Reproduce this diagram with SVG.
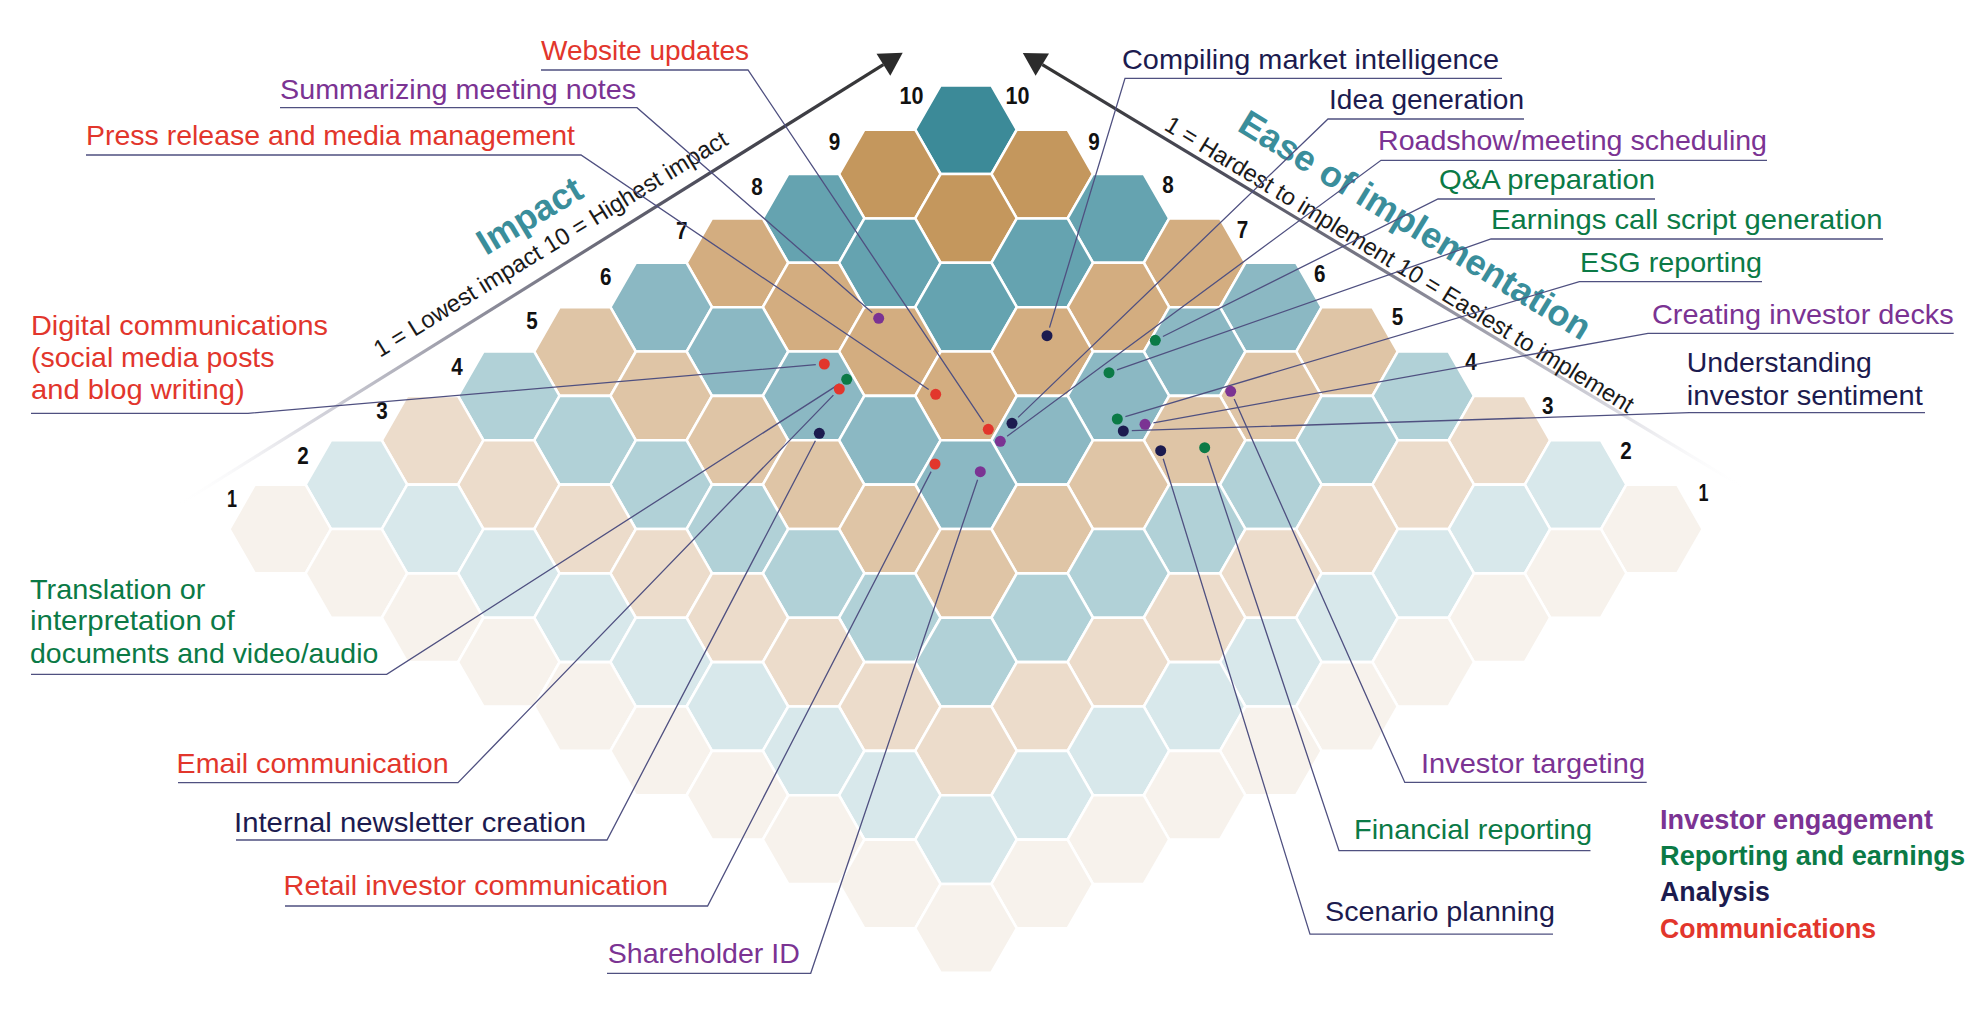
<svg xmlns="http://www.w3.org/2000/svg" width="1972" height="1015" viewBox="0 0 1972 1015">
<style>
text{font-family:"Liberation Sans",Arial,sans-serif}
.lbl{font-size:28px}
.leg{font-size:27px;font-weight:bold}
.num{font-size:24.5px;font-weight:bold;fill:#111;text-anchor:middle}
.ttl{font-size:36px;font-weight:bold;fill:#3a8e9b}
.sub{font-size:24px;fill:#1a1a1a}
.red{fill:#e2362c}.pur{fill:#7b3393}.grn{fill:#0b7a46}.nav{fill:#1c1b4f}
.c0{fill:#3c8a98}.c1{fill:#c4975d}.c2{fill:#65a3b0}.c3{fill:#d3ad80}.c4{fill:#8bb8c3}
.c5{fill:#dfc5a6}.c6{fill:#b1d1d7}.c7{fill:#ecdccb}.c8{fill:#d8e8eb}.c9{fill:#f7f2ec}
.ld{fill:none;stroke:#4f5080;stroke-width:1.3}
</style>
<defs>
<polygon id="hx" points="-50.8,0 -25.4,-44.37 25.4,-44.37 50.8,0 25.4,44.37 -25.4,44.37" stroke="#ffffff" stroke-width="2.6" stroke-linejoin="miter"/>
<linearGradient id="gl" gradientUnits="userSpaceOnUse" x1="175" y1="507" x2="883.4" y2="64.7">
<stop offset="0" stop-color="#ffffff" stop-opacity="0"/>
<stop offset="0.2" stop-color="#d4d4dc"/>
<stop offset="0.45" stop-color="#8a8a98"/>
<stop offset="0.75" stop-color="#4c4c5a"/>
<stop offset="1" stop-color="#333333"/>
</linearGradient>
<linearGradient id="gr" gradientUnits="userSpaceOnUse" x1="1745" y1="488.4" x2="1042.3" y2="64.7">
<stop offset="0" stop-color="#ffffff" stop-opacity="0"/>
<stop offset="0.2" stop-color="#d4d4dc"/>
<stop offset="0.45" stop-color="#8a8a98"/>
<stop offset="0.75" stop-color="#4c4c5a"/>
<stop offset="1" stop-color="#333333"/>
</linearGradient>
</defs>
<rect width="1972" height="1015" fill="#ffffff"/>

<g id="hexgrid" transform="translate(966 129.7)">
<g transform="translate(0 0)">
<use href="#hx" x="0" y="0" class="c0"/><use href="#hx" x="76.2" y="44.37" class="c1"/><use href="#hx" x="152.4" y="88.74" class="c2"/><use href="#hx" x="228.6" y="133.11" class="c3"/><use href="#hx" x="304.8" y="177.48" class="c4"/><use href="#hx" x="381" y="221.85" class="c5"/><use href="#hx" x="457.2" y="266.22" class="c6"/><use href="#hx" x="533.4" y="310.59" class="c7"/><use href="#hx" x="609.6" y="354.96" class="c8"/><use href="#hx" x="685.8" y="399.33" class="c9"/>
</g>
<g transform="translate(-76.2 44.37)">
<use href="#hx" x="0" y="0" class="c1"/><use href="#hx" x="76.2" y="44.37" class="c1"/><use href="#hx" x="152.4" y="88.74" class="c2"/><use href="#hx" x="228.6" y="133.11" class="c3"/><use href="#hx" x="304.8" y="177.48" class="c4"/><use href="#hx" x="381" y="221.85" class="c5"/><use href="#hx" x="457.2" y="266.22" class="c6"/><use href="#hx" x="533.4" y="310.59" class="c7"/><use href="#hx" x="609.6" y="354.96" class="c8"/><use href="#hx" x="685.8" y="399.33" class="c9"/>
</g>
<g transform="translate(-152.4 88.74)">
<use href="#hx" x="0" y="0" class="c2"/><use href="#hx" x="76.2" y="44.37" class="c2"/><use href="#hx" x="152.4" y="88.74" class="c2"/><use href="#hx" x="228.6" y="133.11" class="c3"/><use href="#hx" x="304.8" y="177.48" class="c4"/><use href="#hx" x="381" y="221.85" class="c5"/><use href="#hx" x="457.2" y="266.22" class="c6"/><use href="#hx" x="533.4" y="310.59" class="c7"/><use href="#hx" x="609.6" y="354.96" class="c8"/><use href="#hx" x="685.8" y="399.33" class="c9"/>
</g>
<g transform="translate(-228.6 133.11)">
<use href="#hx" x="0" y="0" class="c3"/><use href="#hx" x="76.2" y="44.37" class="c3"/><use href="#hx" x="152.4" y="88.74" class="c3"/><use href="#hx" x="228.6" y="133.11" class="c3"/><use href="#hx" x="304.8" y="177.48" class="c4"/><use href="#hx" x="381" y="221.85" class="c5"/><use href="#hx" x="457.2" y="266.22" class="c6"/><use href="#hx" x="533.4" y="310.59" class="c7"/><use href="#hx" x="609.6" y="354.96" class="c8"/><use href="#hx" x="685.8" y="399.33" class="c9"/>
</g>
<g transform="translate(-304.8 177.48)">
<use href="#hx" x="0" y="0" class="c4"/><use href="#hx" x="76.2" y="44.37" class="c4"/><use href="#hx" x="152.4" y="88.74" class="c4"/><use href="#hx" x="228.6" y="133.11" class="c4"/><use href="#hx" x="304.8" y="177.48" class="c4"/><use href="#hx" x="381" y="221.85" class="c5"/><use href="#hx" x="457.2" y="266.22" class="c6"/><use href="#hx" x="533.4" y="310.59" class="c7"/><use href="#hx" x="609.6" y="354.96" class="c8"/><use href="#hx" x="685.8" y="399.33" class="c9"/>
</g>
<g transform="translate(-381 221.85)">
<use href="#hx" x="0" y="0" class="c5"/><use href="#hx" x="76.2" y="44.37" class="c5"/><use href="#hx" x="152.4" y="88.74" class="c5"/><use href="#hx" x="228.6" y="133.11" class="c5"/><use href="#hx" x="304.8" y="177.48" class="c5"/><use href="#hx" x="381" y="221.85" class="c5"/><use href="#hx" x="457.2" y="266.22" class="c6"/><use href="#hx" x="533.4" y="310.59" class="c7"/><use href="#hx" x="609.6" y="354.96" class="c8"/><use href="#hx" x="685.8" y="399.33" class="c9"/>
</g>
<g transform="translate(-457.2 266.22)">
<use href="#hx" x="0" y="0" class="c6"/><use href="#hx" x="76.2" y="44.37" class="c6"/><use href="#hx" x="152.4" y="88.74" class="c6"/><use href="#hx" x="228.6" y="133.11" class="c6"/><use href="#hx" x="304.8" y="177.48" class="c6"/><use href="#hx" x="381" y="221.85" class="c6"/><use href="#hx" x="457.2" y="266.22" class="c6"/><use href="#hx" x="533.4" y="310.59" class="c7"/><use href="#hx" x="609.6" y="354.96" class="c8"/><use href="#hx" x="685.8" y="399.33" class="c9"/>
</g>
<g transform="translate(-533.4 310.59)">
<use href="#hx" x="0" y="0" class="c7"/><use href="#hx" x="76.2" y="44.37" class="c7"/><use href="#hx" x="152.4" y="88.74" class="c7"/><use href="#hx" x="228.6" y="133.11" class="c7"/><use href="#hx" x="304.8" y="177.48" class="c7"/><use href="#hx" x="381" y="221.85" class="c7"/><use href="#hx" x="457.2" y="266.22" class="c7"/><use href="#hx" x="533.4" y="310.59" class="c7"/><use href="#hx" x="609.6" y="354.96" class="c8"/><use href="#hx" x="685.8" y="399.33" class="c9"/>
</g>
<g transform="translate(-609.6 354.96)">
<use href="#hx" x="0" y="0" class="c8"/><use href="#hx" x="76.2" y="44.37" class="c8"/><use href="#hx" x="152.4" y="88.74" class="c8"/><use href="#hx" x="228.6" y="133.11" class="c8"/><use href="#hx" x="304.8" y="177.48" class="c8"/><use href="#hx" x="381" y="221.85" class="c8"/><use href="#hx" x="457.2" y="266.22" class="c8"/><use href="#hx" x="533.4" y="310.59" class="c8"/><use href="#hx" x="609.6" y="354.96" class="c8"/><use href="#hx" x="685.8" y="399.33" class="c9"/>
</g>
<g transform="translate(-685.8 399.33)">
<use href="#hx" x="0" y="0" class="c9"/><use href="#hx" x="76.2" y="44.37" class="c9"/><use href="#hx" x="152.4" y="88.74" class="c9"/><use href="#hx" x="228.6" y="133.11" class="c9"/><use href="#hx" x="304.8" y="177.48" class="c9"/><use href="#hx" x="381" y="221.85" class="c9"/><use href="#hx" x="457.2" y="266.22" class="c9"/><use href="#hx" x="533.4" y="310.59" class="c9"/><use href="#hx" x="609.6" y="354.96" class="c9"/><use href="#hx" x="685.8" y="399.33" class="c9"/>
</g>
</g>

<g id="axes">
<line x1="175" y1="507" x2="883.4" y2="64.7" stroke="url(#gl)" stroke-width="3.2"/>
<polygon points="902.7,52.7 876.5,53.7 890.3,75.7" fill="#2b2b2b"/>
<line x1="1745" y1="488.4" x2="1042.3" y2="64.7" stroke="url(#gr)" stroke-width="3.2"/>
<polygon points="1022.8,53 1049,53.6 1035.6,75.8" fill="#2b2b2b"/>
<text class="ttl" transform="translate(486 256) rotate(-31)" textLength="116" lengthAdjust="spacingAndGlyphs">Impact</text>
<text class="sub" transform="translate(380 358) rotate(-31.5)" textLength="410" lengthAdjust="spacingAndGlyphs">1 = Lowest impact 10 = Highest impact</text>
<text class="ttl" transform="translate(1236 130) rotate(31.4)" textLength="405" lengthAdjust="spacingAndGlyphs">Ease of implementation</text>
<text class="sub" transform="translate(1163 129) rotate(31.5)" textLength="545" lengthAdjust="spacingAndGlyphs">1 = Hardest to implement 10 = Easiest to implement</text>
<g id="impact-scale">
<text class="num" x="911.6" y="104" textLength="24" lengthAdjust="spacingAndGlyphs">10</text>
<text class="num" x="834.5" y="149.5" textLength="11.5" lengthAdjust="spacingAndGlyphs">9</text>
<text class="num" x="757" y="194.5" textLength="11.5" lengthAdjust="spacingAndGlyphs">8</text>
<text class="num" x="681.7" y="239" textLength="11.5" lengthAdjust="spacingAndGlyphs">7</text>
<text class="num" x="605.7" y="284.5" textLength="11.5" lengthAdjust="spacingAndGlyphs">6</text>
<text class="num" x="532" y="329" textLength="11.5" lengthAdjust="spacingAndGlyphs">5</text>
<text class="num" x="457" y="374.5" textLength="11.5" lengthAdjust="spacingAndGlyphs">4</text>
<text class="num" x="382" y="418.5" textLength="11.5" lengthAdjust="spacingAndGlyphs">3</text>
<text class="num" x="303" y="463.5" textLength="11.5" lengthAdjust="spacingAndGlyphs">2</text>
<text class="num" x="232" y="506.5" textLength="10" lengthAdjust="spacingAndGlyphs">1</text>
</g>
<g id="ease-scale">
<text class="num" x="1017.6" y="104" textLength="24" lengthAdjust="spacingAndGlyphs">10</text>
<text class="num" x="1094" y="149.5" textLength="11.5" lengthAdjust="spacingAndGlyphs">9</text>
<text class="num" x="1168" y="192.5" textLength="11.5" lengthAdjust="spacingAndGlyphs">8</text>
<text class="num" x="1242.4" y="237.5" textLength="11.5" lengthAdjust="spacingAndGlyphs">7</text>
<text class="num" x="1319.7" y="282" textLength="11.5" lengthAdjust="spacingAndGlyphs">6</text>
<text class="num" x="1397.5" y="324.5" textLength="11.5" lengthAdjust="spacingAndGlyphs">5</text>
<text class="num" x="1471" y="370" textLength="11.5" lengthAdjust="spacingAndGlyphs">4</text>
<text class="num" x="1547.7" y="413.5" textLength="11.5" lengthAdjust="spacingAndGlyphs">3</text>
<text class="num" x="1626" y="458.5" textLength="11.5" lengthAdjust="spacingAndGlyphs">2</text>
<text class="num" x="1703.4" y="500.5" textLength="10" lengthAdjust="spacingAndGlyphs">1</text>
</g>
</g>

<g id="connectors">
<path class="ld" d="M541 70 H748 L983.6 422.2"/>
<path class="ld" d="M280 107.7 H637 L872.3 312.7"/>
<path class="ld" d="M86 155 H581 L928.7 389.5"/>
<path class="ld" d="M31 413.3 H248 L815.8 364.7"/>
<path class="ld" d="M31 674.3 H386.7 L839.5 383.9"/>
<path class="ld" d="M178 782.7 H458 L833.4 395.1"/>
<path class="ld" d="M236 840 H607 L815.4 440.8"/>
<path class="ld" d="M285 906 H707.6 L931.1 471.6"/>
<path class="ld" d="M607 973.3 H810.7 L977.6 479.8"/>
<path class="ld" d="M1502 78.3 H1125 L1049.5 327.6"/>
<path class="ld" d="M1524 119 H1328 L1018.1 417.4"/>
<path class="ld" d="M1767 160.3 H1381 L1007.1 436.3"/>
<path class="ld" d="M1655 199 H1438 L1162.9 336.5"/>
<path class="ld" d="M1883 239 H1491 L1117 369.9"/>
<path class="ld" d="M1762 281.7 H1579.4 L1125.4 416.6"/>
<path class="ld" d="M1953.7 333.3 H1648 L1153.4 422.8"/>
<path class="ld" d="M1925 412.7 H1689.5 L1131.8 430.7"/>
<path class="ld" d="M1646.7 782.4 H1404.8 L1234.2 399.1"/>
<path class="ld" d="M1590.5 850.7 H1339 L1207.4 455.8"/>
<path class="ld" d="M1553 934.2 H1310 L1163.2 458.8"/>
</g>

<g id="website-updates"><text class="lbl red" x="541" y="60" textLength="208" lengthAdjust="spacingAndGlyphs">Website updates</text><circle class="red" cx="988.3" cy="429.3" r="5.5"/></g>
<g id="summarizing-meeting-notes"><text class="lbl pur" x="280" y="99.3" textLength="356" lengthAdjust="spacingAndGlyphs">Summarizing meeting notes</text><circle class="pur" cx="878.7" cy="318.3" r="5.5"/></g>
<g id="press-release"><text class="lbl red" x="86" y="145" textLength="489" lengthAdjust="spacingAndGlyphs">Press release and media management</text><circle class="red" cx="935.7" cy="394.3" r="5.5"/></g>
<g id="digital-communications">
<text class="lbl red" x="31" y="335" textLength="297" lengthAdjust="spacingAndGlyphs">Digital communications</text>
<text class="lbl red" x="31" y="366.7" textLength="243.5" lengthAdjust="spacingAndGlyphs">(social media posts</text>
<text class="lbl red" x="31" y="399.3" textLength="213.6" lengthAdjust="spacingAndGlyphs">and blog writing)</text>
<circle class="red" cx="824.3" cy="364" r="5.5"/></g>
<g id="translation">
<text class="lbl grn" x="30" y="599" textLength="175.5" lengthAdjust="spacingAndGlyphs">Translation or</text>
<text class="lbl grn" x="30" y="630" textLength="204.6" lengthAdjust="spacingAndGlyphs">interpretation of</text>
<text class="lbl grn" x="30" y="662.7" textLength="348.3" lengthAdjust="spacingAndGlyphs">documents and video/audio</text>
<circle class="grn" cx="846.7" cy="379.3" r="5.5"/></g>
<g id="email-communication"><text class="lbl red" x="176.6" y="773.3" textLength="272" lengthAdjust="spacingAndGlyphs">Email communication</text><circle class="red" cx="839.3" cy="389" r="5.5"/></g>
<g id="internal-newsletter"><text class="lbl nav" x="234" y="832.3" textLength="352" lengthAdjust="spacingAndGlyphs">Internal newsletter creation</text><circle class="nav" cx="819.3" cy="433.3" r="5.5"/></g>
<g id="retail-investor-communication"><text class="lbl red" x="283.6" y="895" textLength="384.4" lengthAdjust="spacingAndGlyphs">Retail investor communication</text><circle class="red" cx="935" cy="464" r="5.5"/></g>
<g id="shareholder-id"><text class="lbl pur" x="607.8" y="963.3" textLength="192" lengthAdjust="spacingAndGlyphs">Shareholder ID</text><circle class="pur" cx="980.3" cy="471.7" r="5.5"/></g>
<g id="compiling-market-intelligence"><text class="lbl nav" x="1122" y="69.3" textLength="377" lengthAdjust="spacingAndGlyphs">Compiling market intelligence</text><circle class="nav" cx="1047" cy="335.7" r="5.5"/></g>
<g id="idea-generation"><text class="lbl nav" x="1329" y="109.3" textLength="195" lengthAdjust="spacingAndGlyphs">Idea generation</text><circle class="nav" cx="1012" cy="423.3" r="5.5"/></g>
<g id="roadshow-scheduling"><text class="lbl pur" x="1378" y="150" textLength="389" lengthAdjust="spacingAndGlyphs">Roadshow/meeting scheduling</text><circle class="pur" cx="1000.3" cy="441.3" r="5.5"/></g>
<g id="qa-preparation"><text class="lbl grn" x="1439" y="189" textLength="216" lengthAdjust="spacingAndGlyphs">Q&amp;A preparation</text><circle class="grn" cx="1155.3" cy="340.3" r="5.5"/></g>
<g id="earnings-call-script"><text class="lbl grn" x="1491" y="229" textLength="391.5" lengthAdjust="spacingAndGlyphs">Earnings call script generation</text><circle class="grn" cx="1109" cy="372.7" r="5.5"/></g>
<g id="esg-reporting"><text class="lbl grn" x="1580" y="271.7" textLength="182" lengthAdjust="spacingAndGlyphs">ESG reporting</text><circle class="grn" cx="1117.3" cy="419" r="5.5"/></g>
<g id="creating-investor-decks"><text class="lbl pur" x="1652" y="324" textLength="301.7" lengthAdjust="spacingAndGlyphs">Creating investor decks</text><circle class="pur" cx="1145" cy="424.3" r="5.5"/></g>
<g id="understanding-investor-sentiment">
<text class="lbl nav" x="1686.8" y="371.7" textLength="185" lengthAdjust="spacingAndGlyphs">Understanding</text>
<text class="lbl nav" x="1686.8" y="405" textLength="236" lengthAdjust="spacingAndGlyphs">investor sentiment</text>
<circle class="nav" cx="1123.3" cy="431" r="5.5"/></g>
<g id="investor-targeting"><text class="lbl pur" x="1421" y="773" textLength="224" lengthAdjust="spacingAndGlyphs">Investor targeting</text><circle class="pur" cx="1230.7" cy="391.3" r="5.5"/></g>
<g id="financial-reporting"><text class="lbl grn" x="1354" y="839.4" textLength="238" lengthAdjust="spacingAndGlyphs">Financial reporting</text><circle class="grn" cx="1204.7" cy="447.7" r="5.5"/></g>
<g id="scenario-planning"><text class="lbl nav" x="1325" y="921" textLength="230" lengthAdjust="spacingAndGlyphs">Scenario planning</text><circle class="nav" cx="1160.7" cy="450.7" r="5.5"/></g>

<g id="legend">
<text class="leg pur" x="1660" y="829" textLength="273" lengthAdjust="spacingAndGlyphs">Investor engagement</text>
<text class="leg grn" x="1660" y="864.8" textLength="305" lengthAdjust="spacingAndGlyphs">Reporting and earnings</text>
<text class="leg nav" x="1660" y="901.2" textLength="110" lengthAdjust="spacingAndGlyphs">Analysis</text>
<text class="leg red" x="1660" y="938" textLength="216" lengthAdjust="spacingAndGlyphs">Communications</text>
</g>
</svg>
